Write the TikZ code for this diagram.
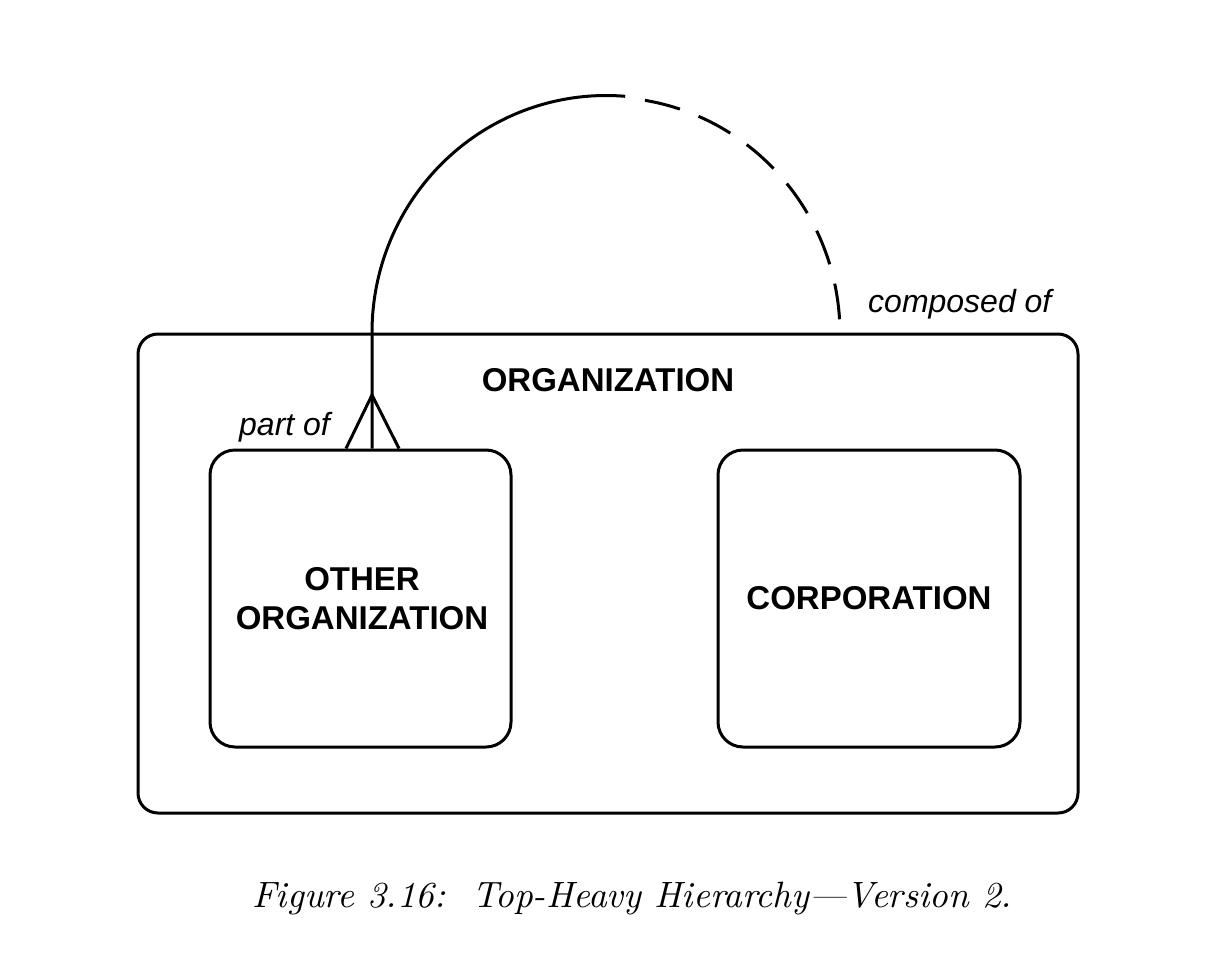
\documentclass[tikz,border=0pt]{standalone}
\usepackage{fontspec}
\setsansfont{Liberation Sans}
\begin{document}
\begin{tikzpicture}[x=1pt,y=-1pt,
  box/.style={draw, line width=3pt, rounded corners=#1, inner sep=0pt},
  boxlbl/.style={font=\sffamily\bfseries\fontsize{33}{39}\selectfont, align=center},
  rellbl/.style={font=\sffamily\itshape\fontsize{32}{38}\selectfont, inner sep=0pt},
  link/.style={line width=3pt}]
\useasboundingbox (0,0) rectangle (1212,958);
\node[box=20pt, minimum width=940pt, minimum height=479pt] (org) at (608,573.5) {};
\node[boxlbl, anchor=base] (orglbl) at (608,391) {ORGANIZATION};
\node[box=25pt, minimum width=301pt, minimum height=297pt] (other) at (360.5,598.5) {};
\node[boxlbl, anchor=base] (otherlbl) at (362,629) {OTHER\\ORGANIZATION};
\node[box=25pt, minimum width=302pt, minimum height=297pt] (corp) at (869,598.5) {};
\node[boxlbl] (corplbl) at (869,598) {CORPORATION};
% connector points
\coordinate (foot) at (other.north -| 372,0);
\coordinate (apex) at (372,395);
\coordinate (cross) at (org.north -| 372,0);
\coordinate (endR) at (org.north -| 840,0);
\coordinate (footL) at ([xshift=-26pt]foot);
\coordinate (footR) at ([xshift=27pt]foot);
\draw[link] (foot) -- (cross)
  arc[start angle=180, end angle=85.3, x radius=234pt, y radius=237pt];
\draw[link, dash pattern=on 36pt off 20pt, dash phase=36pt]
  ([shift={(606,334)}]85.3:234pt and 237pt)
  arc[start angle=85.3, end angle=0, x radius=234pt, y radius=237pt];
\draw[link, line join=miter] (footL) -- (apex) -- (footR);
\node[rellbl, anchor=base west] (partof) at (239,435) {part of};
\node[rellbl, anchor=base west] (composed) at (868,312) {composed of};
\node[anchor=base, inner sep=0pt] (caption) at (632,907)
  {\resizebox{760pt}{!}{\itshape Figure 3.16:\ \ Top-Heavy Hierarchy---Version 2.}};
\end{tikzpicture}
\end{document}
